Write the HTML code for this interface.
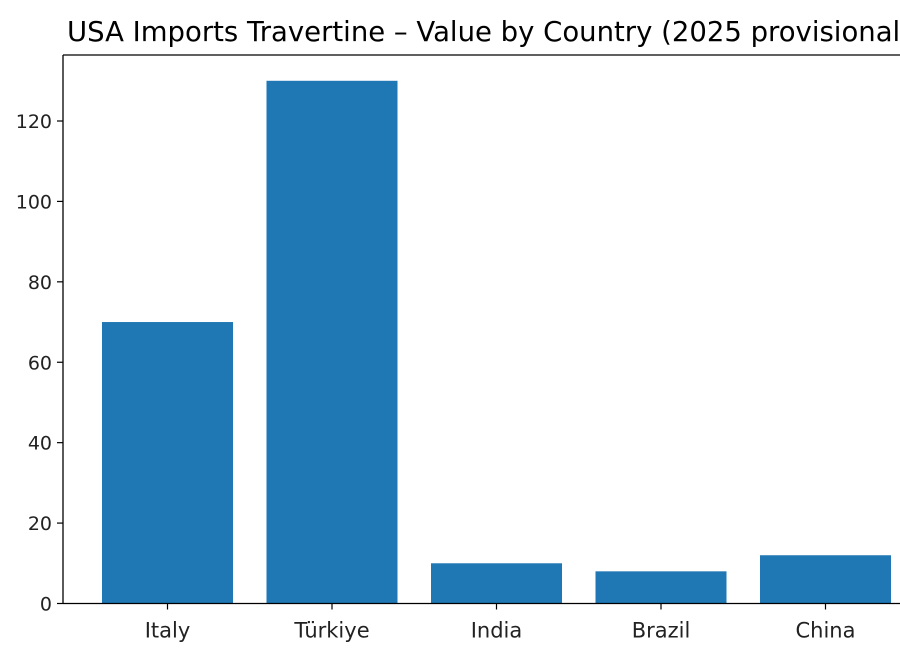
<!DOCTYPE html>
<html><head><meta charset="utf-8"><style>
html,body{margin:0;padding:0;background:#fff;overflow:hidden}
svg{display:block;font-family:"DejaVu Sans","Liberation Sans",sans-serif}
</style></head><body>
<svg id="chart" width="900" height="660" viewBox="0 0 900 660">
<text x="67" y="41" font-size="27.5" fill="#000">USA Imports Travertine – Value by Country (2025 provisional)</text>
<g id="bars"></g>
<g id="yaxis"></g>
<g id="xaxis"></g>
<line x1="63" y1="55" x2="63" y2="603.5" stroke="#000" stroke-width="1.3"/>
<line x1="63" y1="55" x2="900" y2="55" stroke="#000" stroke-width="1.3"/>
<line x1="63" y1="603.5" x2="900" y2="603.5" stroke="#000" stroke-width="1.3"/>
</svg>
<script>
const categories = ["Italy","Türkiye","India","Brazil","China"];
const values = [70,130,10,8,12];
const yTicks = [0,20,40,60,80,100,120];

const NS="http://www.w3.org/2000/svg";
const y0=603.5, pxPerUnit=(603.5-121)/120;
const yScale=v=>y0-v*pxPerUnit;
const xCenter=i=>167.5+i*164.5;
const bw=131;
function mk(t,a){const e=document.createElementNS(NS,t);for(const k in a)e.setAttribute(k,a[k]);return e;}
const gb=document.getElementById('bars'),gy=document.getElementById('yaxis'),gx=document.getElementById('xaxis');
values.forEach((v,i)=>{
  const r=mk('rect',{x:xCenter(i)-bw/2,y:yScale(v),width:bw,height:y0-yScale(v),fill:'#1f77b4'});
  
  
  gb.appendChild(r);
  const tk=mk('line',{x1:xCenter(i),x2:xCenter(i),y1:y0,y2:y0+6,stroke:'#000','stroke-width':1.2});
  
  
  gx.appendChild(tk);
  const t=mk('text',{x:xCenter(i),y:y0+34,'text-anchor':'middle','font-size':'21',fill:'#222'});
  t.textContent=categories[i];
  
  
  gx.appendChild(t);
});
yTicks.forEach(v=>{
  const y=yScale(v);
  const tk=mk('line',{x1:57,x2:63,y1:y,y2:y,stroke:'#000','stroke-width':1.2});
  
  
  gy.appendChild(tk);
  const t=mk('text',{x:52,y:y+7,'text-anchor':'end','font-size':'19',fill:'#222'});
  t.textContent=v;
  
  
  gy.appendChild(t);
});
</script>
</body></html>
